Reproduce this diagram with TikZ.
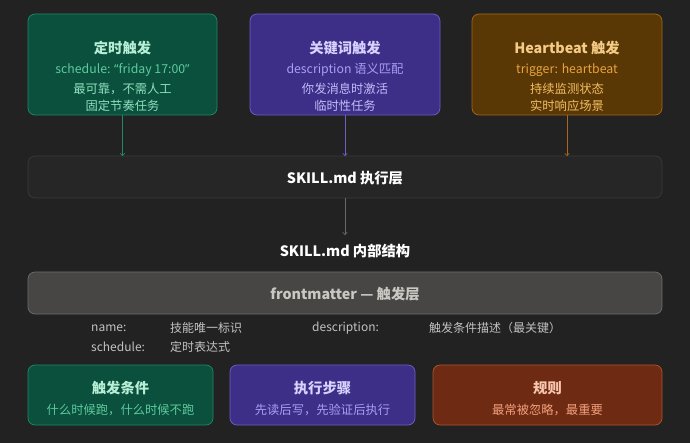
\documentclass[tikz,border=0pt]{standalone}
\usepackage{fontspec}
\setmainfont{Noto Sans CJK SC}
\newfontfamily\lat{Noto Sans}
\usetikzlibrary{arrows.meta}
\definecolor{bg}{HTML}{222222}
\definecolor{gfill}{HTML}{0B4F3D}
\definecolor{gdraw}{HTML}{1F8A66}
\definecolor{gtitle}{HTML}{B6EED6}
\definecolor{gsub}{HTML}{5CCB9E}
\definecolor{gline}{HTML}{8EE0BE}
\definecolor{pfill}{HTML}{3D2F88}
\definecolor{pdraw}{HTML}{6D60C4}
\definecolor{ptitle}{HTML}{D8D2FF}
\definecolor{psub}{HTML}{A89EF2}
\definecolor{pline}{HTML}{C3BBFA}
\definecolor{ofill}{HTML}{5A3806}
\definecolor{odraw}{HTML}{A5681C}
\definecolor{otitle}{HTML}{F5CC86}
\definecolor{osub}{HTML}{E9A33E}
\definecolor{oline}{HTML}{F3BE62}
\definecolor{rfill}{HTML}{6E2A12}
\definecolor{rdraw}{HTML}{B0552E}
\definecolor{rtitle}{HTML}{F8C6AE}
\definecolor{rsub}{HTML}{F0A07C}
\definecolor{exfill}{HTML}{262626}
\definecolor{exdraw}{HTML}{3A3A3A}
\definecolor{fmfill}{HTML}{474644}
\definecolor{fmdraw}{HTML}{6C6C6A}
\definecolor{fmtext}{HTML}{C9C9C4}
\definecolor{fieldc}{HTML}{C2C2C2}
\definecolor{arrgray}{HTML}{6A6A6A}
\tikzset{
  card/.style={rounded corners=7pt, line width=0.7pt},
  ttl/.style={font=\fontsize{14.3}{16}\selectfont\bfseries, anchor=center},
  sub/.style={font=\fontsize{12.3}{14}\selectfont, anchor=center},
  fld/.style={font=\fontsize{12}{13}\selectfont, text=fieldc, anchor=west, inner sep=0pt},
  arr/.style={line width=0.6pt, -{To[length=3pt,width=5pt]}}
}
\begin{document}
\begin{tikzpicture}[x=1pt,y=-1pt]
\fill[bg] (0,0) rectangle (690,443);
\useasboundingbox (0,0) rectangle (690,443);

% top cards
\draw[card, fill=gfill, draw=gdraw] (28,14) rectangle (217,115);
\node[ttl, text=gtitle] (g1) at (122.5,48) {定时触发};
\node[sub, text=gsub] (g2) at (122.5,70) {schedule: {\lat “}friday 17:00{\lat ”}};
\node[sub, text=gline] (g3) at (122.5,88.5) {最可靠，不需人工};
\node[sub, text=gline] (g4) at (122.5,106) {固定节奏任务};
\coordinate (gb) at (122.5,115);

\draw[card, fill=pfill, draw=pdraw] (250,14) rectangle (440,115);
\node[ttl, text=ptitle] (p1) at (345,48) {关键词触发};
\node[sub, text=psub] (p2) at (345,70) {description 语义匹配};
\node[sub, text=pline] (p3) at (345,88.5) {你发消息时激活};
\node[sub, text=pline] (p4) at (345,106) {临时性任务};
\coordinate (pb) at (345,115);

\draw[card, fill=ofill, draw=odraw] (472,14) rectangle (662,115);
\node[ttl, text=otitle] (o1) at (567,48) {Heartbeat 触发};
\node[sub, text=osub] (o2) at (567,70) {trigger: heartbeat};
\node[sub, text=oline] (o3) at (567,88.5) {持续监测状态};
\node[sub, text=oline] (o4) at (567,106) {实时响应场景};
\coordinate (ob) at (567,115);

% exec layer
\draw[card, fill=exfill, draw=exdraw] (28,156) rectangle (662,198);
\node[ttl, text=white] (ex) at (345,178) {SKILL.md 执行层};
\coordinate (ext1) at (122.5,156);
\coordinate (ext2) at (345,156);
\coordinate (ext3) at (567,156);
\coordinate (exb) at (345,198);

\draw[arr, draw=gdraw] (gb) -- (ext1);
\draw[arr, draw=pdraw] (pb) -- (ext2);
\draw[arr, draw=odraw] (ob) -- (ext3);

\node[ttl, text=white] (inner) at (345,251) {SKILL.md 内部结构};
\coordinate (innt) at (345,235);
\draw[arr, draw=arrgray] (exb) -- (innt);

% frontmatter
\draw[card, fill=fmfill, draw=fmdraw] (28,272) rectangle (662,314);
\node[ttl, text=fmtext] (fm) at (345,294) {frontmatter — 触发层};

\node[fld] (f1) at (91,328) {name:};
\node[fld] (f2) at (170,328) {技能唯一标识};
\node[fld] (f3) at (312,328) {description:};
\node[fld] (f4) at (429,328) {触发条件描述（最关键）};
\node[fld] (f5) at (91,347) {schedule:};
\node[fld] (f6) at (170,347) {定时表达式};

% bottom cards
\draw[card, fill=gfill, draw=gdraw] (28,365) rectangle (213,425);
\node[ttl, text=gtitle] (b1) at (120.5,388) {触发条件};
\node[sub, text=gsub] (b1s) at (120.5,410) {什么时候跑，什么时候不跑};

\draw[card, fill=pfill, draw=pdraw] (230,365) rectangle (415,425);
\node[ttl, text=ptitle] (b2) at (322.5,388) {执行步骤};
\node[sub, text=psub] (b2s) at (322.5,410) {先读后写，先验证后执行};

\draw[card, fill=rfill, draw=rdraw] (433,365) rectangle (662,425);
\node[ttl, text=rtitle] (b3) at (547.5,388) {规则};
\node[sub, text=rsub] (b3s) at (547.5,410) {最常被忽略，最重要};
\end{tikzpicture}
\end{document}
